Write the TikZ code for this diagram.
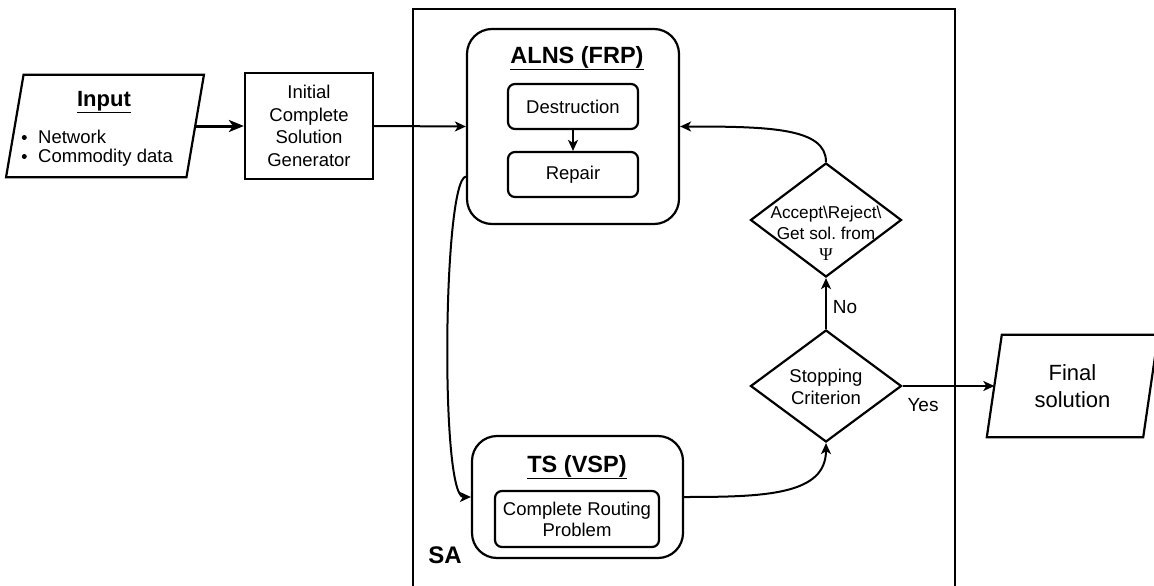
\documentclass[tikz,border=0pt]{standalone}
\usepackage{fontspec}
\setmainfont{Liberation Sans}
\newfontfamily\psifont{Liberation Serif}
\usetikzlibrary{shapes.geometric,arrows.meta}
\begin{document}
\frenchspacing
\begin{tikzpicture}[x=1pt,y=-1pt,
  shp/.style={draw, line width=2.2pt, inner sep=0pt},
  parabody/.style={rectangle, inner sep=0pt},
  paraline/.style={line width=2.2pt, line join=miter},
  sqbox/.style={shp, rectangle},
  bigrbox/.style={shp, rectangle, rounded corners=25pt},
  smallrbox/.style={shp, rectangle, rounded corners=7pt},
  dia/.style={shp, diamond},
  bulletdot/.style={circle, fill, inner sep=0pt, minimum size=5pt},
  mainf/.style={font=\fontsize{18.5}{22.5}\selectfont, align=center},
  titlef/.style={font=\fontsize{23.5}{28}\selectfont\bfseries, anchor=base},
  conn/.style={line width=2pt, -{Stealth[length=11pt,width=10pt,inset=3pt]}},
]
\useasboundingbox (0,0) rectangle (1154,586);

% SA container
\coordinate (saBL) at (413,600);
\coordinate (saTL) at (413,9);
\coordinate (saTR) at (955,9);
\coordinate (saBR) at (955,600);
\draw[line width=2.2pt] (saBL) -- (saTL) -- (saTR) -- (saBR);
\node[titlef, font=\fontsize{24}{28}\selectfont\bfseries] (sa) at (445,563.3) {SA};

% Input
\node[parabody, minimum width=180pt, minimum height=102pt] (in) at (105,126) {};
\draw[paraline] ([xshift=-8.75pt]in.south west) -- ([xshift=8.75pt]in.north west) -- ([xshift=8.75pt]in.north east) -- ([xshift=-8.75pt]in.south east) -- cycle;
\node[titlef, font=\fontsize{22}{26}\selectfont\bfseries] (intitle) at (104,106.7) {\underline{Input}};
\node[bulletdot] (bul1) at (24.3,137.5) {};
\node[bulletdot] (bul2) at (24.3,156.5) {};
\node[font=\fontsize{18.5}{22.5}\selectfont, anchor=base west, inner sep=0pt] (net) at (38,143.3) {Network};
\node[font=\fontsize{18.5}{22.5}\selectfont, anchor=base west, inner sep=0pt] (com) at (38,162.3) {Commodity data};

% Initial solution generator
\node[sqbox, mainf, minimum width=128pt, minimum height=106pt] (init) at (309,126) {Initial\\Complete\\Solution\\Generator};

% ALNS
\node[bigrbox, minimum width=212pt, minimum height=195pt] (alns) at (573,126.5) {};
\node[titlef] (alnst) at (577,63.3) {\underline{ALNS (FRP)}};
\node[smallrbox, mainf, minimum width=130pt, minimum height=45pt] (dest) at (573,106.5) {Destruction};
\node[smallrbox, mainf, minimum width=130pt, minimum height=45pt] (rep) at (573,174.5) {Repair};

% TS
\node[bigrbox, minimum width=211pt, minimum height=122pt] (ts) at (577.5,497) {};
\node[titlef] (tst) at (577,472.3) {\underline{TS (VSP)}};
\node[smallrbox, mainf, font=\fontsize{18.5}{21}\selectfont, minimum width=164pt, minimum height=56pt] (crp) at (577,519) {Complete Routing\\Problem};

% Diamonds
\node[dia, minimum width=151pt, minimum height=114pt] (acc) at (826,220) {};
\node[mainf, font=\fontsize{17.2}{21}\selectfont] (acct) at (826,233.5) {Accept\textbackslash Reject\textbackslash\\Get sol. from\\{\psifont\fontsize{18}{21}\selectfont Ψ}};
\node[dia, minimum width=151pt, minimum height=112pt] (stop) at (826,386) {};
\node[mainf, font=\fontsize{18.5}{22.3}\selectfont] (stopt) at (826,387) {Stopping\\Criterion};

% Final solution
\node[parabody, mainf, font=\fontsize{22}{27.5}\selectfont, minimum width=156pt, minimum height=102pt] (fin) at (1072.5,386) {Final\\solution};
\draw[paraline] ([xshift=-7.5pt]fin.south west) -- ([xshift=7.5pt]fin.north west) -- ([xshift=7.5pt]fin.north east) -- ([xshift=-7.5pt]fin.south east) -- cycle;

% Connectors
\draw[line width=3pt, -{Stealth[length=15pt,width=12pt,inset=4pt]}] (in.east) -- (init.west);
\draw[conn] (init.east) -- (alns.west);
\draw[conn] (dest.south) -- (rep.north);
\draw[conn] ([yshift=-50pt]alns.west) .. controls (443,180) and (440,497) .. (ts.west);
\draw[conn] (ts.east) .. controls (765,497) and (826,495) .. (stop.south);
\draw[conn] (stop.north) -- (acc.south);
\draw[conn] (acc.north) .. controls (826,128) and (770,126.5) .. (alns.east);
\draw[conn] (stop.east) -- (fin.west);

% Labels
\node[font=\fontsize{19}{22}\selectfont, anchor=base] (no) at (845,313.3) {No};
\node[font=\fontsize{19}{22}\selectfont, anchor=base] (yes) at (923,411.7) {Yes};
\end{tikzpicture}
\end{document}
